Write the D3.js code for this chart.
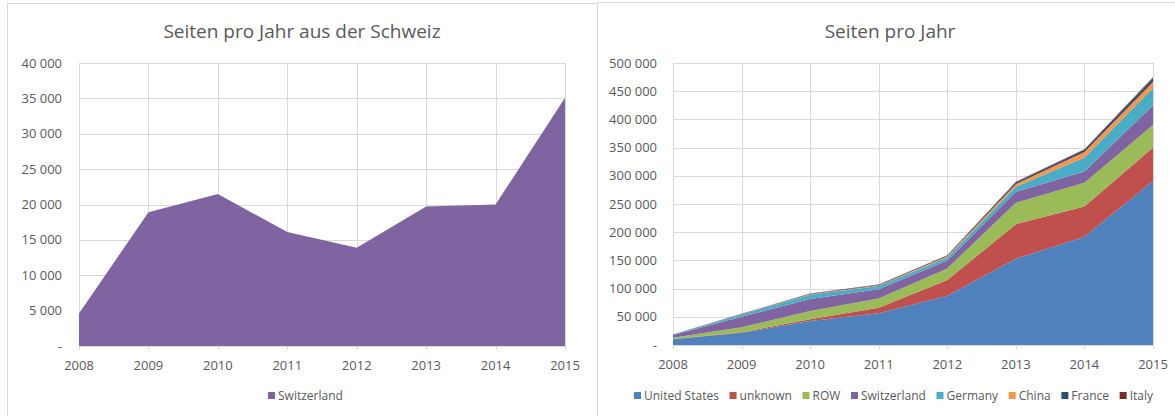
<!DOCTYPE html>
<html>
<head>
<meta charset="utf-8">
<script src="https://cdn.jsdelivr.net/npm/d3@7"></script>
<style>
  body { margin: 0; background: #fff; }
  text { font-family: "Open Sans", "Noto Sans", sans-serif; fill: #595959; }
</style>
</head>
<body>
<svg id="chart" width="1175" height="416"></svg>
<script>
// values
const years = [2008, 2009, 2010, 2011, 2012, 2013, 2014, 2015];
const swissPages = [4600, 18900, 21500, 16100, 13900, 19700, 20000, 35100];

const countries = ['United States', 'unknown', 'ROW', 'Switzerland', 'Germany', 'China', 'France', 'Italy'];
const usPages      = [10000, 21800, 42500, 56100, 87400, 152900, 191900, 291000];
const unknownPages = [500, 1000, 3000, 10000, 27700, 61400, 53700, 59100];
const rowPages     = [2500, 8500, 14700, 16500, 20700, 37800, 41900, 40100];
const germanyPages = [600, 4000, 7500, 5800, 5600, 8700, 24900, 30500];
const chinaPages   = [100, 300, 600, 800, 2000, 4700, 10000, 10600];
const francePages  = [300, 500, 1000, 1300, 1200, 3000, 4000, 5900];
const italyPages   = [200, 300, 600, 700, 500, 1200, 700, 2400];
const countryColors = ['#4F81BD', '#C0504D', '#9BBB59', '#8064A2', '#4BACC6', '#F79646', '#2C4D75', '#772C2A'];

const leftTicks = [0, 5000, 10000, 15000, 20000, 25000, 30000, 35000, 40000];
const rightTicks = [0, 50000, 100000, 150000, 200000, 250000, 300000, 350000, 400000, 450000, 500000];

const seriesByCountry = [usPages, unknownPages, rowPages, swissPages, germanyPages, chinaPages, francePages, italyPages];
const table = years.map((y, i) => {
    const row = { year: y };
    countries.forEach((c, k) => row[c] = seriesByCountry[k][i]);
    return row;
});

const svg = d3.select('#chart');
const gridColor = '#d9d9d9';
const fmt = d3.formatLocale({ decimal: ',', thousands: ' ', grouping: [3], currency: ['', ''] }).format(',d');
const tickFmt = d => d === 0 ? '-' : fmt(d);

// chart frames
svg.append('rect').attr('x', 7.5).attr('y', 3.5).attr('width', 590).attr('height', 420)
    .attr('fill', 'none').attr('stroke', gridColor);
svg.append('rect').attr('x', 597.5).attr('y', 2.5).attr('width', 600).attr('height', 420)
    .attr('fill', 'none').attr('stroke', gridColor);

function drawFrame(opts) {
    const x = d3.scaleLinear().domain([2008, 2015]).range([opts.x0, opts.x1]);
    const y = d3.scaleLinear().domain([0, opts.ticks[opts.ticks.length - 1]]).range([opts.y0, opts.y1]);
    const grid = svg.append('g');
    const marks = svg.append('g');
    const axis = svg.append('g');

    grid.selectAll('.hg').data(opts.ticks.slice(1)).join('line')
        .attr('x1', opts.x0).attr('x2', opts.x1)
        .attr('y1', d => Math.round(y(d)) + 0.5).attr('y2', d => Math.round(y(d)) + 0.5)
        .attr('stroke', gridColor);
    grid.selectAll('.vg').data(years).join('line')
        .attr('x1', d => Math.round(x(d)) + 0.5).attr('x2', d => Math.round(x(d)) + 0.5)
        .attr('y1', opts.y1).attr('y2', opts.y0 + 4)
        .attr('stroke', gridColor);
    // base line drawn over the areas
    axis.append('line').attr('x1', opts.x0).attr('x2', opts.x1)
        .attr('y1', Math.round(y(0)) + 0.5).attr('y2', Math.round(y(0)) + 0.5)
        .attr('stroke', gridColor);

    axis.selectAll('.yl').data(opts.ticks).join('text')
        .attr('x', opts.labelX).attr('y', d => y(d)).attr('dy', '0.35em')
        .attr('text-anchor', 'end').attr('font-size', 13)
        .text(tickFmt);
    axis.selectAll('.xl').data(years).join('text')
        .attr('x', d => x(d)).attr('y', opts.y0 + 24)
        .attr('text-anchor', 'middle').attr('font-size', 13)
        .text(d => d);

    svg.append('text').attr('x', opts.titleX).attr('y', 38)
        .attr('text-anchor', 'middle').attr('font-size', 19)
        .text(opts.title);
    return { x, y, marks };
}

// legend laid out between x0 and x1, gaps spread to fill
function drawLegend(names, colors, x0, x1, cy) {
    const lg = svg.append('g').attr('transform', `translate(${x0},${cy})`);
    const items = names.map((n, i) => {
        const item = lg.append('g');
        item.append('rect').attr('x', 0).attr('y', -4).attr('width', 7).attr('height', 7).attr('fill', colors[i]);
        const t = item.append('text').attr('x', 10).attr('y', 0).attr('dy', '0.35em')
            .attr('font-size', 12).text(n);
        return { item, w: 10 + t.node().getComputedTextLength() };
    });
    const used = d3.sum(items, d => d.w);
    const gap = items.length > 1 ? (x1 - x0 - used) / (items.length - 1) : 0;
    let pos = 0;
    items.forEach(d => {
        d.item.attr('transform', `translate(${pos},0)`);
        pos += d.w + gap;
    });
}

// left chart
const left = drawFrame({ x0: 79, x1: 565, y0: 346, y1: 63, ticks: leftTicks, labelX: 62,
    titleX: 302, title: 'Seiten pro Jahr aus der Schweiz' });
left.marks.append('path')
    .datum(swissPages)
    .attr('fill', '#8064A2')
    .attr('d', d3.area().x((d, i) => left.x(years[i])).y0(left.y(0)).y1(d => left.y(d)));
drawLegend(['Switzerland'], ['#8064A2'], 268, 345, 396);

// right chart
const right = drawFrame({ x0: 673, x1: 1153, y0: 345, y1: 63, ticks: rightTicks, labelX: 657,
    titleX: 890, title: 'Seiten pro Jahr' });
const stacked = d3.stack().keys(countries)(table);
const rArea = d3.area()
    .x(d => right.x(d.data.year))
    .y0(d => right.y(d[0]))
    .y1(d => right.y(d[1]));
right.marks.selectAll('path').data(stacked).join('path')
    .attr('fill', (d, i) => countryColors[i])
    .attr('d', rArea);
drawLegend(countries, countryColors, 634, 1153, 396);
</script>
</body>
</html>
